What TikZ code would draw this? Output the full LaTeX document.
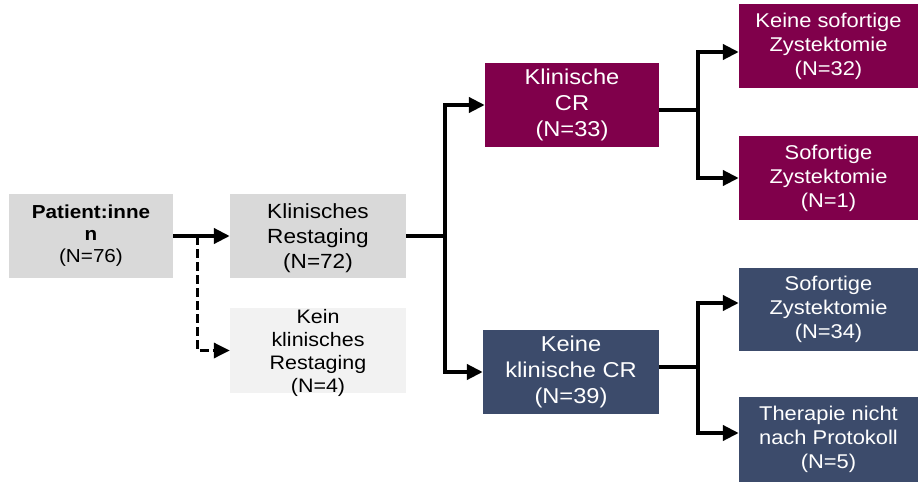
\documentclass[tikz,border=0pt]{standalone}
\usepackage{fontspec}
\setmainfont{Liberation Sans}[FakeStretch=1.1]
\usetikzlibrary{arrows.meta,calc}
\definecolor{boxgray}{HTML}{D9D9D9}
\definecolor{boxlight}{HTML}{F2F2F2}
\definecolor{maroon}{RGB}{128,0,75}
\definecolor{navy}{RGB}{60,75,107}
\tikzset{
  box/.style={rectangle, inner sep=0pt, draw=none},
  txt/.style={align=center, inner sep=0pt},
  arr/.style={line width=4pt, -{Triangle[length=16pt,width=15pt]}},
  conn/.style={line width=4pt},
  dashconn/.style={line width=3.3pt, dash pattern=on 9pt off 4pt, -{Triangle[length=16pt,width=15pt]}},
  fA/.style={font=\fontsize{18.8}{22}\selectfont},
  fB/.style={font=\fontsize{20.5}{25}\selectfont},
  fC/.style={font=\fontsize{19.5}{23}\selectfont},
  fD/.style={font=\fontsize{21.5}{26}\selectfont},
  fE/.style={font=\fontsize{19.9}{24}\selectfont},
}
\begin{document}
\begin{tikzpicture}[x=1pt,y=-1pt]
\useasboundingbox (0,0) rectangle (918,482);
\fill[white] (0,0) rectangle (918,482);
% boxes
\node[box, fill=boxgray, minimum width=164pt, minimum height=84pt] (p) at (91,236) {};
\node[box, fill=boxgray, minimum width=176pt, minimum height=84pt] (kr) at (318,236) {};
\node[box, fill=boxlight, minimum width=176pt, minimum height=85pt] (kk) at (318,350.5) {};
\node[box, fill=maroon, minimum width=174pt, minimum height=84pt] (kcr) at (572,105) {};
\node[box, fill=navy, minimum width=176pt, minimum height=84pt] (kncr) at (571,372) {};
\node[box, fill=maroon, minimum width=179pt, minimum height=84pt] (s1) at (828.5,46) {};
\node[box, fill=maroon, minimum width=179pt, minimum height=84pt] (s2) at (828.5,178) {};
\node[box, fill=navy, minimum width=179pt, minimum height=83pt] (s3) at (828.5,309.5) {};
\node[box, fill=navy, minimum width=179pt, minimum height=85pt] (s4) at (828.5,439.5) {};
% texts
\node[txt, fA] (pt) at (p) {\textbf{Patient:inne}\\\textbf{n}\\(N=76)};
\node[txt, fB] (krt) at ([yshift=-2pt]kr.center) {Klinisches\\Restaging\\(N=72)};
\node[txt, fC] (kkt) at ([yshift=-2pt]kk.center) {Kein\\klinisches\\Restaging\\(N=4)};
\node[txt, fD, text=white] (kcrt) at (kcr) {Klinische\\CR\\(N=33)};
\node[txt, fD, text=white] (kncrt) at (kncr) {Keine\\klinische CR\\(N=39)};
\node[txt, fE, text=white] (s1t) at (s1) {Keine sofortige\\Zystektomie\\(N=32)};
\node[txt, fE, text=white] (s2t) at (s2) {Sofortige\\Zystektomie\\(N=1)};
\node[txt, fE, text=white] (s3t) at (s3) {Sofortige\\Zystektomie\\(N=34)};
\node[txt, fE, text=white] (s4t) at (s4) {Therapie nicht\\nach Protokoll\\(N=5)};
% connectors
\draw[arr] (p.east) -- (kr.west);
\coordinate (d1) at ($(p.east)+(24,0)$);
\draw[dashconn] (d1) |- (kk.west);
\coordinate (b1) at ($(kr.east)+(39,0)$);
\draw[conn] (kr.east) -- (b1);
\draw[arr] (b1) |- (kcr.west);
\draw[arr] (b1) |- (kncr.west);
\coordinate (c1) at ([yshift=-5pt]kcr.east);
\coordinate (b2) at ($(c1)+(39,0)$);
\draw[conn] (c1) -- (b2);
\draw[arr] (b2) |- ([yshift=-6pt]s1.west);
\draw[arr] (b2) |- (s2.west);
\coordinate (c2) at ([yshift=5pt]kncr.east);
\coordinate (b3) at ($(c2)+(39,0)$);
\draw[conn] (c2) -- (b3);
\draw[arr] (b3) |- ([yshift=6.5pt]s3.west);
\draw[arr] (b3) |- ([yshift=6.5pt]s4.west);
\end{tikzpicture}
\end{document}
